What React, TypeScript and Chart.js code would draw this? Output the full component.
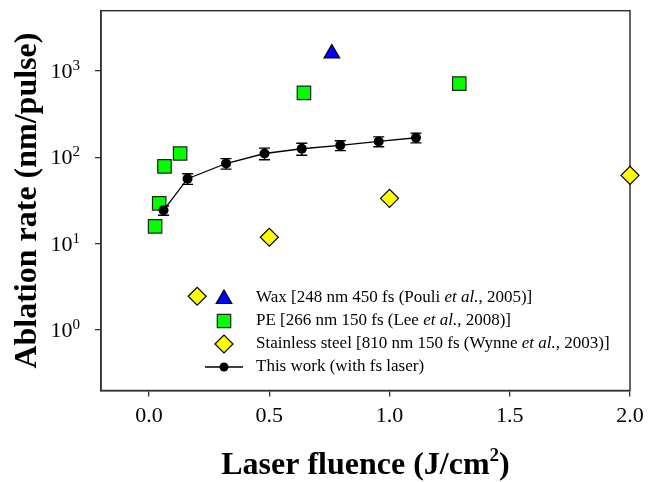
import React, { useEffect, useRef } from "react";
import { Chart, registerables } from "chart.js";

Chart.register(...registerables);

// ---- data ----
const waxX = [0.76];
const waxY = [1600];

const peX = [0.025, 0.042, 0.064, 0.129, 0.644, 1.29];
const peY = [15.9, 29.4, 78.7, 111, 560, 715];

const steelX = [0.2, 0.5, 1.0, 2.0];
const steelY = [2.47, 11.9, 33.6, 62];

const workX = [0.06, 0.16, 0.32, 0.48, 0.635, 0.795, 0.955, 1.11];
const workY = [24.4, 56.7, 85, 111, 126, 138, 153, 169];
const workErr = [3, 8, 12, 17, 20, 18, 20, 22];

const xTicks = [0, 0.5, 1.0, 1.5, 2.0];
const xTickLabels = ["0.0", "0.5", "1.0", "1.5", "2.0"];
const yTicks = [1, 10, 100, 1000];
const yTickExponents = ["0", "1", "2", "3"];

const legendLabels = [
  "Wax [248 nm 450 fs (Pouli *et al.*, 2005)]",
  "PE [266 nm 150 fs (Lee *et al.*, 2008)]",
  "Stainless steel [810 nm 150 fs (Wynne *et al.*, 2003)]",
  "This work (with fs laser)",
];

const yTitle = "Ablation rate (nm/pulse)";
const xTitleMain = "Laser fluence (J/cm";
const xTitleSup = "2";
const xTitleEnd = ")";

const FONT = '"Liberation Serif", "Times New Roman", serif';

function toPts(xs: number[], ys: number[]) {
  return xs.map((x, i) => ({ x, y: ys[i] }));
}

function drawTriangle(ctx: CanvasRenderingContext2D, x: number, y: number, r: number) {
  ctx.beginPath();
  ctx.moveTo(x, y - r);
  ctx.lineTo(x + 0.866 * r, y + 0.5 * r);
  ctx.lineTo(x - 0.866 * r, y + 0.5 * r);
  ctx.closePath();
}
function drawSquare(ctx: CanvasRenderingContext2D, x: number, y: number, r: number) {
  const s = Math.SQRT1_2 * r;
  ctx.beginPath();
  ctx.rect(x - s, y - s, 2 * s, 2 * s);
}
function drawDiamond(ctx: CanvasRenderingContext2D, x: number, y: number, r: number) {
  ctx.beginPath();
  ctx.moveTo(x - r, y);
  ctx.lineTo(x, y - r);
  ctx.lineTo(x + r, y);
  ctx.lineTo(x, y + r);
  ctx.closePath();
}

const decor = {
  id: "decor",
  beforeDatasetsDraw(chart: any) {
    const { ctx, chartArea: a, scales } = chart;
    ctx.save();
    ctx.strokeStyle = "#333";
    ctx.lineWidth = 1.5;
    ctx.strokeRect(a.left, a.top, a.right - a.left, a.bottom - a.top);
    // error bars
    ctx.strokeStyle = "#000";
    ctx.lineWidth = 1.3;
    for (let i = 0; i < workX.length; i++) {
      const px = scales.x.getPixelForValue(workX[i]);
      const yt = scales.y.getPixelForValue(workY[i] + workErr[i]);
      const yb = scales.y.getPixelForValue(workY[i] - workErr[i]);
      ctx.beginPath();
      ctx.moveTo(px, yt);
      ctx.lineTo(px, yb);
      ctx.moveTo(px - 5.5, yt);
      ctx.lineTo(px + 5.5, yt);
      ctx.moveTo(px - 5.5, yb);
      ctx.lineTo(px + 5.5, yb);
      ctx.stroke();
    }
    ctx.restore();
  },
  afterDraw(chart: any) {
    const { ctx, chartArea: a, scales } = chart;
    ctx.save();
    ctx.fillStyle = "#000";
    // x tick labels
    ctx.font = `22px ${FONT}`;
    ctx.textAlign = "center";
    ctx.textBaseline = "middle";
    xTicks.forEach((v, i) => {
      ctx.fillText(xTickLabels[i], scales.x.getPixelForValue(v), 416);
    });
    // y tick labels with superscripts
    const rightX = 80;
    yTicks.forEach((v, i) => {
      const py = scales.y.getPixelForValue(v);
      ctx.font = `15px ${FONT}`;
      ctx.textAlign = "right";
      ctx.textBaseline = "alphabetic";
      const ew = ctx.measureText(yTickExponents[i]).width;
      ctx.fillText(yTickExponents[i], rightX, py - 1);
      ctx.font = `22px ${FONT}`;
      ctx.textBaseline = "middle";
      ctx.fillText("10", rightX - ew, py + 1);
    });
    // y title
    ctx.save();
    ctx.translate(28, (a.top + a.bottom) / 2);
    ctx.rotate(-Math.PI / 2);
    ctx.font = `bold 32px ${FONT}`;
    ctx.textAlign = "center";
    ctx.textBaseline = "middle";
    ctx.fillText(yTitle, 0, 0);
    ctx.restore();
    // x title
    ctx.font = `bold 32px ${FONT}`;
    const w1 = ctx.measureText(xTitleMain).width;
    const w3 = ctx.measureText(xTitleEnd).width;
    ctx.font = `bold 19px ${FONT}`;
    const w2 = ctx.measureText(xTitleSup).width;
    const total = w1 + w2 + w3;
    let sx = (a.left + a.right) / 2 - total / 2;
    const base = 474;
    ctx.textAlign = "left";
    ctx.textBaseline = "alphabetic";
    ctx.font = `bold 32px ${FONT}`;
    ctx.fillText(xTitleMain, sx, base);
    ctx.font = `bold 19px ${FONT}`;
    ctx.fillText(xTitleSup, sx + w1, base - 13);
    ctx.font = `bold 32px ${FONT}`;
    ctx.fillText(xTitleEnd, sx + w1 + w2, base);

    // legend
    const symX = 224;
    const textX = 256;
    const rows = [298, 321, 344, 367];
    ctx.lineWidth = 1.2;
    ctx.strokeStyle = "#000";
    // symbols
    ctx.fillStyle = "#0000ff";
    drawTriangle(ctx, symX, rows[0] + 1, 9);
    ctx.fill();
    ctx.stroke();
    ctx.fillStyle = "#00ff00";
    ctx.strokeStyle = "#222";
    drawSquare(ctx, symX, rows[1], 9.5);
    ctx.fill();
    ctx.stroke();
    ctx.strokeStyle = "#000";
    ctx.fillStyle = "#ffff00";
    drawDiamond(ctx, symX, rows[2], 9);
    ctx.fill();
    ctx.stroke();
    ctx.beginPath();
    ctx.moveTo(symX - 19, rows[3]);
    ctx.lineTo(symX + 19, rows[3]);
    ctx.lineWidth = 1.3;
    ctx.stroke();
    ctx.fillStyle = "#000";
    ctx.beginPath();
    ctx.arc(symX, rows[3], 4.5, 0, Math.PI * 2);
    ctx.fill();
    // texts
    ctx.fillStyle = "#000";
    ctx.textBaseline = "middle";
    ctx.textAlign = "left";
    legendLabels.forEach((lab, i) => {
      const parts = lab.split("*");
      let x = textX;
      parts.forEach((p, j) => {
        ctx.font = `${j % 2 === 1 ? "italic " : ""}17px ${FONT}`;
        ctx.fillText(p, x, rows[i]);
        x += ctx.measureText(p).width;
      });
    });
    ctx.restore();
  },
};

export default function App() {
  const ref = useRef<HTMLCanvasElement>(null);
  useEffect(() => {
    const axisCommon = {
      ticks: { display: false },
      grid: {
        display: true,
        drawOnChartArea: false,
        drawTicks: true,
        tickLength: 6,
        color: "#333",
        lineWidth: 1.3,
      },
      border: { display: true, color: "#333", width: 1.5 },
    };
    const chart = new Chart(ref.current as HTMLCanvasElement, {
      type: "scatter",
      data: {
        datasets: [
          {
            label: legendLabels[3],
            data: toPts(workX, workY),
            showLine: true,
            borderColor: "#000",
            borderWidth: 1.3,
            backgroundColor: "#000",
            pointStyle: "circle",
            pointRadius: 5,
            pointBorderWidth: 0,
            pointBackgroundColor: "#000",
            tension: 0,
            clip: false,
            order: 0,
          } as any,
          {
            label: legendLabels[0],
            data: toPts(waxX, waxY),
            pointStyle: "triangle",
            pointRadius: 9,
            backgroundColor: "#0000ff",
            borderColor: "#000",
            borderWidth: 1.2,
            clip: false,
            order: 1,
          } as any,
          {
            label: legendLabels[1],
            data: toPts(peX, peY),
            pointStyle: "rect",
            pointRadius: 9.5,
            backgroundColor: "#00ff00",
            borderColor: "#222",
            borderWidth: 1.2,
            clip: false,
            order: 2,
          } as any,
          {
            label: legendLabels[2],
            data: toPts(steelX, steelY),
            pointStyle: "rectRot",
            pointRadius: 9,
            backgroundColor: "#ffff00",
            borderColor: "#000",
            borderWidth: 1.2,
            clip: false,
            order: 3,
          } as any,
        ],
      },
      options: {
        animation: false,
        responsive: false,
        devicePixelRatio: 1,
        layout: { padding: { left: 95, top: 10, right: 19, bottom: 85.5 } },
        plugins: {
          legend: { display: false },
          tooltip: { enabled: false },
        },
        scales: {
          x: {
            type: "linear",
            min: -0.2,
            max: 2.0,
            afterBuildTicks: (s: any) => {
              s.ticks = xTicks.map((v) => ({ value: v }));
            },
            ...axisCommon,
          } as any,
          y: {
            type: "logarithmic",
            min: 0.2,
            max: 5000,
            afterBuildTicks: (s: any) => {
              s.ticks = yTicks.map((v) => ({ value: v }));
            },
            ...axisCommon,
          } as any,
        },
      },
      plugins: [decor],
    });
    return () => chart.destroy();
  }, []);
  return (
    <div style={{ position: "absolute", left: 0, top: 0, width: 649, height: 482, background: "#fff" }}>
      <canvas ref={ref} width={649} height={482} style={{ display: "block", width: 649, height: 482 }} />
    </div>
  );
}
